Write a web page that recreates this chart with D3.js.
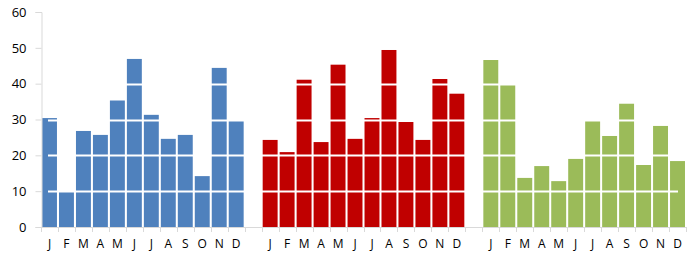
<!DOCTYPE html>
<html>
<head>
<meta charset="utf-8">
<script src="https://cdn.jsdelivr.net/npm/d3@7"></script>
<style>
  body { margin: 0; background: #fff; }
  text { font-family: "Open Sans", Lato, sans-serif; }
</style>
</head>
<body>
<div id="chart"></div>
<script>
var svgWidth = 691;
var svgHeight = 258;

// data
var months = ["J", "F", "M", "A", "M", "J", "J", "A", "S", "O", "N", "D"];
var blueValues = [30.4, 9.9, 26.8, 25.7, 35.3, 46.9, 31.3, 24.6, 25.7, 14.2, 44.4, 29.7];
var redValues = [24.3, 20.9, 41.1, 23.7, 45.3, 24.6, 30.4, 49.4, 29.3, 24.3, 41.3, 37.2];
var greenValues = [46.6, 39.7, 13.7, 17.0, 12.8, 19.0, 29.6, 25.4, 34.4, 17.3, 28.2, 18.4];
var yTicks = [0, 10, 20, 30, 40, 50, 60];
var gridValues = [10, 20, 30, 40, 50];

var colors = { blue: "#4F81BD", red: "#C00000", green: "#9BBB59" };

// one slot per bar, plus an empty slot between the groups
var slots = [];
var groups = [["blue", blueValues], ["red", redValues], ["green", greenValues]];
groups.forEach(function(g, gi) {
  g[1].forEach(function(v, i) {
    slots.push({ key: g[0] + i, label: months[i], value: v, color: colors[g[0]] });
  });
  if (gi < groups.length - 1) {
    slots.push({ key: "gap" + gi, label: "", value: null });
  }
});

var margin = { top: 12, right: 5, bottom: 31, left: 41 };
var chartWidth = svgWidth - margin.left - margin.right;
var chartHeight = svgHeight - margin.top - margin.bottom;

var svg = d3.select("#chart")
  .append("svg")
  .attr("width", svgWidth)
  .attr("height", svgHeight);

var chartGroup = svg.append("g")
  .attr("transform", `translate(${margin.left}, ${margin.top})`);

var xScale = d3.scaleBand()
  .domain(slots.map(d => d.key))
  .range([0, chartWidth])
  .paddingInner(0.12)
  .paddingOuter(0.06);

var yScale = d3.scaleLinear()
  .domain([0, 60])
  .range([chartHeight, 0]);

// bars
chartGroup.selectAll("rect.bar")
  .data(slots.filter(d => d.value !== null))
  .enter()
  .append("rect")
  .attr("class", "bar")
  .attr("x", d => xScale(d.key))
  .attr("y", d => yScale(d.value))
  .attr("width", xScale.bandwidth())
  .attr("height", d => chartHeight - yScale(d.value))
  .attr("fill", d => d.color);

// white gridlines, drawn over the bars
chartGroup.selectAll("line.grid")
  .data(gridValues)
  .enter()
  .append("line")
  .attr("class", "grid")
  .attr("x1", 7)
  .attr("x2", chartWidth - 8)
  .attr("y1", d => Math.round(yScale(d)) + 0.5)
  .attr("y2", d => Math.round(yScale(d)) + 0.5)
  .attr("stroke", "#fff")
  .attr("stroke-width", 2);

// y axis
var leftAxis = d3.axisLeft(yScale)
  .tickValues(yTicks)
  .tickSize(6)
  .tickPadding(9);

var yAxis = chartGroup.append("g")
  .attr("transform", "translate(0.5, 0)")
  .call(leftAxis);
yAxis.select(".domain").attr("stroke", "#d9d9d9");
yAxis.selectAll(".tick line").attr("stroke", "#d9d9d9");
yAxis.selectAll(".tick text")
  .attr("fill", "#000")
  .style("font-size", "13px");

// x axis: labels under the bars, ticks at the slot edges
var bottomAxis = d3.axisBottom(xScale)
  .tickSize(0)
  .tickPadding(12)
  .tickFormat(k => slots.find(d => d.key === k).label);

var xAxis = chartGroup.append("g")
  .attr("transform", `translate(0, ${chartHeight})`)
  .call(bottomAxis);
xAxis.select(".domain").remove();
xAxis.selectAll(".tick text")
  .attr("fill", "#000")
  .style("font-size", "12px");

var half = (xScale.step() - xScale.bandwidth()) / 2;
var edges = slots.map(d => xScale(d.key) - half);
edges.push(chartWidth);

chartGroup.append("line")
  .attr("x1", 0)
  .attr("x2", chartWidth)
  .attr("y1", chartHeight + 0.5)
  .attr("y2", chartHeight + 0.5)
  .attr("stroke", "#d9d9d9");

chartGroup.selectAll("line.xtick")
  .data(edges)
  .enter()
  .append("line")
  .attr("class", "xtick")
  .attr("x1", d => Math.round(d) + 0.5)
  .attr("x2", d => Math.round(d) + 0.5)
  .attr("y1", chartHeight)
  .attr("y2", chartHeight + 5)
  .attr("stroke", "#d9d9d9");
</script>
</body>
</html>
